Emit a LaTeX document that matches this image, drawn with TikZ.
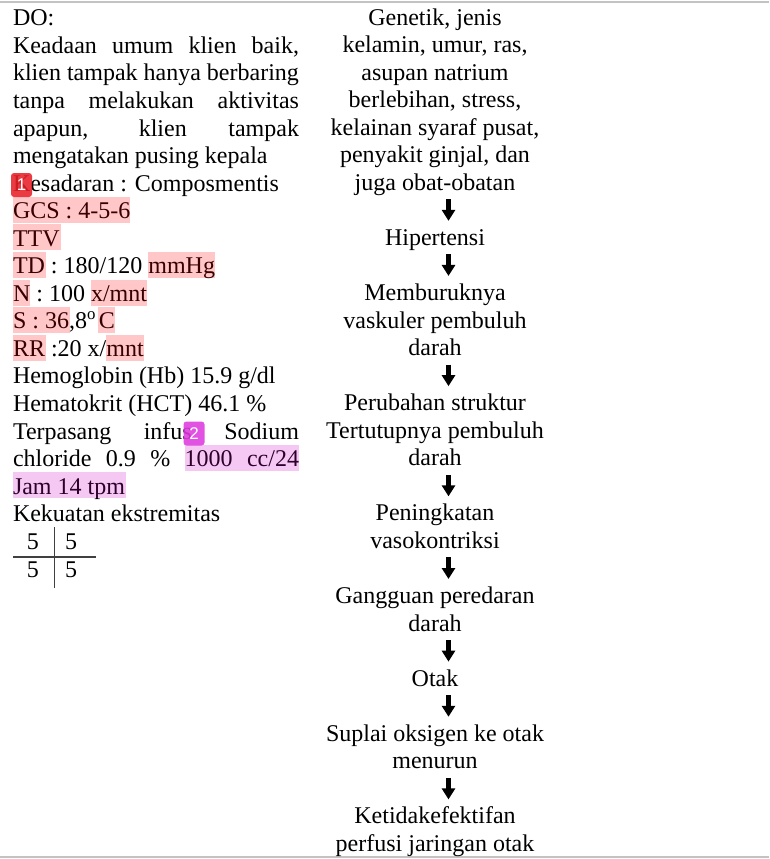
\documentclass[tikz,border=0pt]{standalone}
\usepackage{fontspec}
\setmainfont{Liberation Serif}
\newfontfamily\badgefont{Liberation Sans}
\usetikzlibrary{arrows.meta}
\definecolor{hlred}{RGB}{255,0,0}
\definecolor{hlpur}{RGB}{209,0,200}
\definecolor{bred}{RGB}{232,32,40}
\definecolor{bpur}{RGB}{222,58,222}
\definecolor{rulegray}{RGB}{195,195,195}
\newcommand\st{\rule[-6pt]{0pt}{27.55pt}}
\newcommand\jl[1]{\makebox[286pt][s]{#1}}
\begin{document}
\begin{tikzpicture}[x=1pt,y=-1pt,
  every node/.style={inner sep=0pt, outer sep=0pt, font=\fontsize{24}{27.55}\selectfont},
  ln/.style={anchor=base west},
  blk/.style={anchor=north, align=center},
  flow/.style={line width=5pt, -{Triangle[width=13pt,length=11pt]}, shorten <=3pt, shorten >=3pt},
  hlr/.style={fill=hlred, fill opacity=0.22},
  hlp/.style={fill=hlpur, fill opacity=0.22},
  badge/.style={rounded corners=3pt, minimum width=21pt, minimum height=24pt, fill opacity=0.88, text opacity=1, text=white, font=\badgefont\fontsize{17}{17}\selectfont},
  tab/.style={line width=1.1pt, black!75}]
\useasboundingbox (0,0) rectangle (769,859);
% frame rules
\draw[rulegray, line width=2pt] (0,2.5) -- (769,2.5);
\draw[rulegray, line width=2pt] (0,857) -- (769,857);
% left column
\node[ln] (l0)  at (13,26)     {DO:};
\node[ln] (l1)  at (13,53.5)   {\jl{Keadaan umum klien baik,}};
\node[ln] (l2)  at (13,81)     {klien tampak hanya berbaring};
\node[ln] (l3)  at (13,108.6)  {\jl{tanpa melakukan aktivitas}};
\node[ln] (l4)  at (13,136.1)  {\jl{apapun, klien tampak}};
\node[ln] (l5)  at (13,163.6)  {mengatakan pusing kepala};
\node[ln] (l6)  at (13,191.1)  {Kesadaran : Composmentis};
\node[ln] (l7)  at (13,218.6)  {GCS : 4-5-6};
\node[ln] (l8)  at (13,246.1)  {TTV};
\node[ln] (l9)  at (13,273.7)  {TD : 180/120 mmHg};
\node[ln] (l10) at (13,301.2)  {N : 100 x/mnt};
\node[ln] (l11) at (13,328.8)  {S : 36,8\textsuperscript{o}\hspace{3pt}C};
\node[ln] (l12) at (13,356.3)  {RR :20 x/mnt};
\node[ln] (l13) at (13,383.9)  {Hemoglobin (Hb) 15.9 g/dl};
\node[ln] (l14) at (13,411.4)  {Hematokrit (HCT) 46.1 \%};
\node[ln] (l15) at (13,439)    {\jl{Terpasang infus Sodium}};
\node[ln] (l16) at (13,466.5)  {\jl{chloride 0.9 \% 1000 cc/24}};
\node[ln] (l17) at (13,494.1)  {Jam 14 tpm};
\node[ln] (l18) at (13,521.8)  {Kekuatan ekstremitas};
% strength table
\node[anchor=base] (t11) at (33,549.5) {5};
\node[anchor=base] (t12) at (71,549.5) {5};
\node[anchor=base] (t21) at (33,577.5) {5};
\node[anchor=base] (t22) at (71,577.5) {5};
\draw[tab] (54.5,527) -- (54.5,588);
\draw[tab] (13,557) -- (96,557);
% highlights (overlay)
\fill[hlr] (13,196.85) rectangle (130,222.85);
\fill[hlr] (13,224.4) rectangle (61,250.4);
\fill[hlr] (13,251.95) rectangle (46,277.95);
\fill[hlr] (148,251.95) rectangle (215,277.95);
\fill[hlr] (13,279.5) rectangle (30,305.5);
\fill[hlr] (91,279.5) rectangle (147,305.5);
\fill[hlr] (13,307.05) rectangle (70,333.05);
\fill[hlr] (98,307.05) rectangle (115,333.05);
\fill[hlr] (13,334.6) rectangle (46,360.6);
\fill[hlr] (106,334.6) rectangle (144,360.6);
\fill[hlp] (185,444.8) rectangle (299,470.8);
\fill[hlp] (13,472.35) rectangle (126,498.35);
% badges
\node[badge, fill=bred] (b1) at (21.5,185) {1};
\node[badge, fill=bpur] (b2) at (194,433.5) {2};
% right column
\node[blk] (gen) at (435,3.45) {\st Genetik, jenis\\ \st kelamin, umur, ras,\\ \st asupan natrium\\ \st berlebihan, stress,\\ \st kelainan syaraf pusat,\\ \st penyakit ginjal, dan\\ \st juga obat-obatan};
\node[blk] (hip) at (435,223.85) {\st Hipertensi};
\node[blk] (mem) at (435,278.95) {\st Memburuknya\\ \st vaskuler pembuluh\\ \st darah};
\node[blk] (per) at (435,389.15) {\st Perubahan struktur\\ \st Tertutupnya pembuluh\\ \st darah};
\node[blk] (pen) at (435,499.35) {\st Peningkatan\\ \st vasokontriksi};
\node[blk] (gang) at (435,582.0) {\st Gangguan peredaran\\ \st darah};
\node[blk] (otak) at (435,664.65) {\st Otak};
\node[blk] (sup) at (435,719.75) {\st Suplai oksigen ke otak\\ \st menurun};
\node[blk] (ket) at (435,802.4) {\st Ketidakefektifan\\ \st perfusi jaringan otak};
\coordinate (ax) at (448.5,0);
\draw[flow] (gen.south -| ax) -- (hip.north -| ax);
\draw[flow] (hip.south -| ax) -- (mem.north -| ax);
\draw[flow] (mem.south -| ax) -- (per.north -| ax);
\draw[flow] (per.south -| ax) -- (pen.north -| ax);
\draw[flow] (pen.south -| ax) -- (gang.north -| ax);
\draw[flow] (gang.south -| ax) -- (otak.north -| ax);
\draw[flow] (otak.south -| ax) -- (sup.north -| ax);
\draw[flow] (sup.south -| ax) -- (ket.north -| ax);
\end{tikzpicture}
\end{document}
